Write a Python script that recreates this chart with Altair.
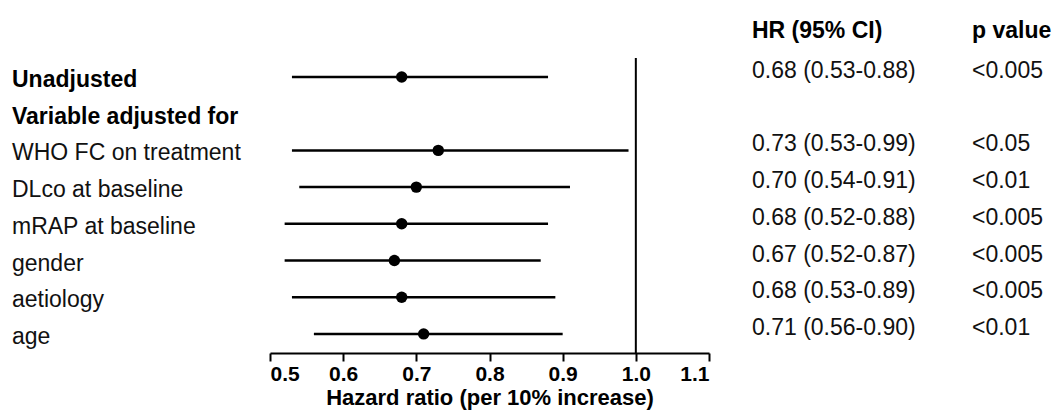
import altair as alt
import pandas as pd

labels = ["Unadjusted", "Variable adjusted for", "WHO FC on treatment", "DLco at baseline",
          "mRAP at baseline", "gender", "aetiology", "age"]
bold_rows = [True, True, False, False, False, False, False, False]
hr = [0.68, None, 0.73, 0.70, 0.68, 0.67, 0.68, 0.71]
ci_low = [0.53, None, 0.53, 0.54, 0.52, 0.52, 0.53, 0.56]
ci_high = [0.88, None, 0.99, 0.91, 0.88, 0.87, 0.89, 0.90]
hr_text = ["0.68 (0.53-0.88)", "", "0.73 (0.53-0.99)", "0.70 (0.54-0.91)",
           "0.68 (0.52-0.88)", "0.67 (0.52-0.87)", "0.68 (0.53-0.89)", "0.71 (0.56-0.90)"]
p_text = ["<0.005", "", "<0.05", "<0.01", "<0.005", "<0.005", "<0.005", "<0.01"]
x_ticks = [0.5, 0.6, 0.7, 0.8, 0.9, 1.0, 1.1]
ref_value = 1.0

FONT = "Liberation Sans"

rows = pd.DataFrame({
    "row": list(range(len(labels))),
    "label": labels,
    "bold": bold_rows,
    "hr": hr,
    "lo": ci_low,
    "hi": ci_high,
    "hr_text": hr_text,
    "p_text": p_text,
})
est = rows[rows["hr"].notna()].copy()

xscale = alt.Scale(domain=[0.5, 1.1], nice=False, zero=False)
yscale = alt.Scale(domain=[-1.88, 7.52], nice=False, zero=False, reverse=True)
xaxis = alt.Axis(values=x_ticks, format=".1f", title="Hazard ratio (per 10% increase)",
                 grid=False, domainColor="black", domainWidth=2, tickColor="black",
                 tickWidth=2, tickSize=8, labelFont=FONT, labelFontSize=21,
                 labelFontWeight="bold", labelColor="black", labelPadding=2,
                 titleFont=FONT, titleFontSize=22, titleFontWeight="bold",
                 titleColor="black", titlePadding=3)

base = alt.Chart(est)

ref = alt.Chart(pd.DataFrame({"v": [ref_value]})).mark_rule(color="black", strokeWidth=2).encode(
    x=alt.X("v:Q", scale=xscale, axis=xaxis),
    y=alt.value(50), y2=alt.value(345))

ci = base.mark_rule(color="black", strokeWidth=2.5).encode(
    x=alt.X("lo:Q", scale=xscale, axis=xaxis),
    x2="hi:Q",
    y=alt.Y("row:Q", scale=yscale, axis=None))

pts = base.mark_circle(color="black", opacity=1, size=130).encode(
    x=alt.X("hr:Q", scale=xscale, axis=xaxis),
    y=alt.Y("row:Q", scale=yscale, axis=None))

lab_bold = alt.Chart(rows[rows["bold"]]).mark_text(
    align="left", baseline="middle", font=FONT, fontSize=23, fontWeight="bold",
    color="black", dy=3).encode(
    x=alt.value(-258), y=alt.Y("row:Q", scale=yscale, axis=None), text="label:N")

lab_norm = alt.Chart(rows[~rows["bold"]]).mark_text(
    align="left", baseline="middle", font=FONT, fontSize=23, color="#111111", dy=3).encode(
    x=alt.value(-258), y=alt.Y("row:Q", scale=yscale, axis=None), text="label:N")

hr_col = base.mark_text(align="left", baseline="middle", font=FONT, fontSize=23,
                        color="#111111", dy=-6).encode(
    x=alt.value(482), y=alt.Y("row:Q", scale=yscale, axis=None), text="hr_text:N")

p_col = base.mark_text(align="left", baseline="middle", font=FONT, fontSize=23,
                       color="#111111", dy=-6).encode(
    x=alt.value(702), y=alt.Y("row:Q", scale=yscale, axis=None), text="p_text:N")

headers = pd.DataFrame({"h": ["HR (95% CI)", "p value"]})
h1 = alt.Chart(headers).transform_filter("datum.h == 'HR (95% CI)'").mark_text(
    align="left", baseline="middle", font=FONT, fontSize=23, fontWeight="bold",
    color="black").encode(x=alt.value(482), y=alt.value(23), text="h:N")
h2 = alt.Chart(headers).transform_filter("datum.h == 'p value'").mark_text(
    align="left", baseline="middle", font=FONT, fontSize=23, fontWeight="bold",
    color="black").encode(x=alt.value(702), y=alt.value(23), text="h:N")

chart = alt.layer(ref, ci, pts, lab_bold, lab_norm, hr_col, p_col, h1, h2).properties(
    width=439, height=345,
    background="white",
    autosize=alt.AutoSizeParams(type="none"),
    padding={"left": 262, "top": 0, "right": 343, "bottom": 57},
).configure_view(strokeWidth=0, stroke=None)

chart.save("out.html", embed_options={"renderer": "svg", "actions": False})
